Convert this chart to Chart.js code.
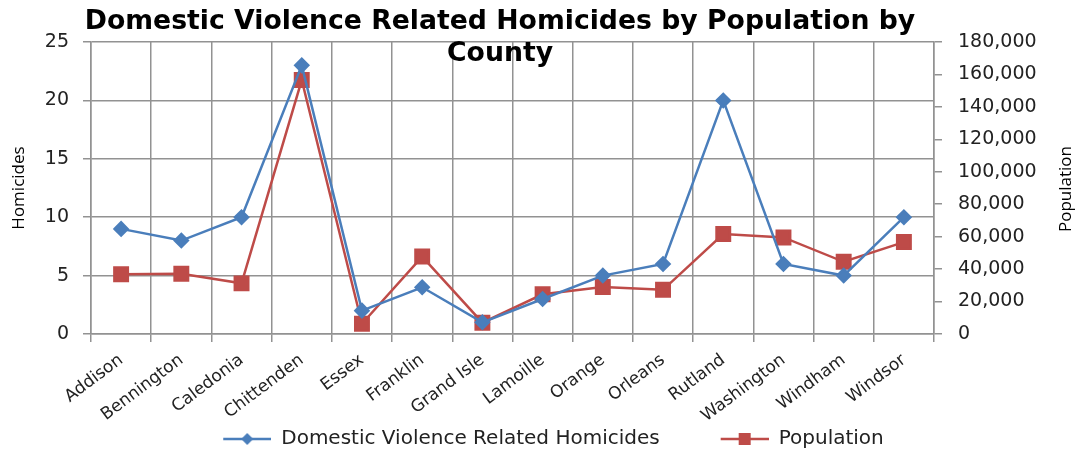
<!DOCTYPE html>
<html><head><meta charset="utf-8">
<script src="https://cdn.jsdelivr.net/npm/chart.js@4.4.1/dist/chart.umd.min.js"></script>
<style>html,body{margin:0;padding:0;background:#fff;}#wrap{width:1078px;height:450px;position:relative;}</style>
</head><body><div id="wrap"><canvas id="c"></canvas></div>
<script>
const counties = ['Addison','Bennington','Caledonia','Chittenden','Essex','Franklin','Grand Isle','Lamoille','Orange','Orleans','Rutland','Washington','Windham','Windsor'];
const homicides = [9,8,10,23,2,4,1,3,5,6,20,6,5,10];
const population = [36821,37125,31227,156545,6306,47746,6970,24475,28936,27231,61642,59534,44513,56670];
const seriesNames = ['Domestic Violence Related Homicides','Population'];
const titleLines = ['Domestic Violence Related Homicides by Population by','County'];
const leftAxisTitle = 'Homicides';
const rightAxisTitle = 'Population';

const BLUE = '#4A7EBB', RED = '#BE4B48', GRID = '#929292', TXT = '#222';
const ICON_BLANK = 60, ICON_W = 48;
const PAD_RIGHT = 31, PAD_BOTTOM = -9;

function makeIcon(color, kind){
  const c = document.createElement('canvas');
  c.width = ICON_BLANK + ICON_W; c.height = 18;
  const g = c.getContext('2d');
  const x0 = ICON_BLANK, xm = ICON_BLANK + ICON_W / 2;
  g.strokeStyle = color; g.lineWidth = 2.5;
  g.beginPath(); g.moveTo(x0, 9); g.lineTo(x0 + ICON_W, 9); g.stroke();
  g.fillStyle = color;
  if (kind === 'diamond'){
    g.beginPath(); g.moveTo(xm-6,9); g.lineTo(xm,3); g.lineTo(xm+6,9); g.lineTo(xm,15); g.closePath(); g.fill();
  } else {
    g.fillRect(xm-6, 3, 12, 12);
  }
  return c;
}
const icons = [makeIcon(BLUE,'diamond'), makeIcon(RED,'square')];

const overlay = {
  id: 'overlayText',
  afterDraw(chart){
    const ctx = chart.ctx;
    ctx.save();
    ctx.fillStyle = '#000';
    ctx.textAlign = 'center';
    ctx.textBaseline = 'alphabetic';
    ctx.font = 'bold 26.7px "DejaVu Sans"';
    ctx.fillText(titleLines[0], 500, 29);
    ctx.fillText(titleLines[1], 500, 61);
    ctx.font = '17px "Open Sans"';
    ctx.textBaseline = 'middle';
    ctx.save(); ctx.translate(19, 188); ctx.rotate(-Math.PI/2); ctx.fillText(leftAxisTitle, 0, 0); ctx.restore();
    ctx.save(); ctx.translate(1066, 189); ctx.rotate(-Math.PI/2); ctx.fillText(rightAxisTitle, 0, 0); ctx.restore();
    ctx.restore();
  }
};

new Chart(document.getElementById('c'), {
  type: 'line',
  data: {
    labels: counties,
    datasets: [
      {label: seriesNames[0], data: homicides, yAxisID: 'y', borderColor: BLUE, backgroundColor: BLUE,
       borderWidth: 2.5, pointStyle: 'rectRot', pointRadius: 6.5, pointHoverRadius: 6.5, tension: 0},
      {label: seriesNames[1], data: population, yAxisID: 'y1', borderColor: RED, backgroundColor: RED,
       borderWidth: 2.5, pointStyle: 'rect', pointRadius: 9.5, pointHoverRadius: 9.5, tension: 0}
    ]
  },
  options: {
    responsive: true, maintainAspectRatio: false, animation: false,
    layout: {padding: {top: 42, left: 0, right: PAD_RIGHT, bottom: PAD_BOTTOM}},
    plugins: {
      title: {display: false}, tooltip: {enabled: false},
      legend: {
        position: 'bottom',
        labels: {
          usePointStyle: true, pointStyleWidth: ICON_BLANK + ICON_W, padding: 1, color: TXT,
          font: {family: 'DejaVu Sans', size: 20},
          generateLabels(chart){
            const items = Chart.defaults.plugins.legend.labels.generateLabels(chart);
            items.forEach((it, i) => { it.pointStyle = icons[i]; });
            return items;
          }
        }
      }
    },
    scales: {
      x: {
        offset: true,
        grid: {offset: true, color: GRID, lineWidth: 1.5, tickLength: 8, drawTicks: true},
        border: {color: GRID, width: 1.5},
        ticks: {color: TXT, font: {family: 'DejaVu Sans', size: 17}, minRotation: 37, maxRotation: 37, padding: 8, autoSkip: false},
        afterFit(s){ s.height = 450 - PAD_BOTTOM - 334 - s.chart.legend.height; }
      },
      y: {
        position: 'left', min: 0, max: 25,
        ticks: {stepSize: 5, color: TXT, font: {family: 'DejaVu Sans', size: 19}, padding: 14},
        grid: {color: GRID, lineWidth: 1.5, tickLength: 8},
        border: {color: GRID, width: 1.5},
        afterFit(s){ s.width = 91; }
      },
      y1: {
        position: 'right', min: 0, max: 180000,
        ticks: {stepSize: 20000, color: TXT, font: {family: 'DejaVu Sans', size: 19}, padding: 16},
        grid: {drawOnChartArea: false, color: GRID, lineWidth: 1.5, tickLength: 8},
        border: {color: GRID, width: 1.5},
        afterFit(s){ s.width = 1078 - 934 - PAD_RIGHT; }
      }
    }
  },
  plugins: [overlay]
});
</script></body></html>
